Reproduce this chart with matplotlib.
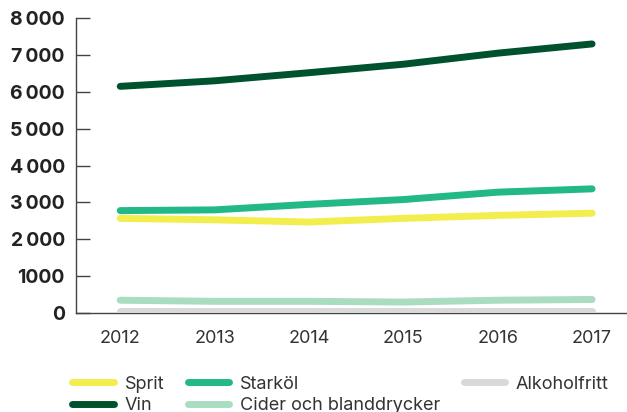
import matplotlib.pyplot as plt

years = [2012, 2013, 2014, 2015, 2016, 2017]
sprit = [2570, 2530, 2470, 2570, 2650, 2710]
vin = [6150, 6300, 6520, 6750, 7050, 7300]
starkol = [2780, 2800, 2950, 3080, 3280, 3370]
cider = [350, 320, 320, 300, 350, 370]
alkoholfritt = [60, 60, 60, 60, 60, 60]

y_ticks = [0, 1000, 2000, 3000, 4000, 5000, 6000, 7000, 8000]
y_labels = ['0', '1000', '2\u2009000', '3\u2009000', '4\u2009000', '5\u2009000',
            '6\u2009000', '7\u2009000', '8\u2009000']

plt.rcParams['font.family'] = ['Inter', 'DejaVu Sans']

fig = plt.figure(figsize=(6.27, 4.12), dpi=100)
ax = fig.add_axes([0.121, 0.240, 0.879, 0.716])

lw = 5
ax.plot(years, cider, color='#aadcc0', lw=lw, solid_capstyle='round', label='Cider och blanddrycker', zorder=3)
ax.plot(years, alkoholfritt, color='#d9d9d9', lw=lw, solid_capstyle='round', label='Alkoholfritt', zorder=3)
ax.plot(years, sprit, color='#f2ee4d', lw=lw, solid_capstyle='round', label='Sprit', zorder=3)
ax.plot(years, starkol, color='#22b887', lw=lw, solid_capstyle='round', label='Starköl', zorder=3)
ax.plot(years, vin, color='#00522f', lw=lw, solid_capstyle='round', label='Vin', zorder=3)

ax.set_xlim(2011.53, 2017.37)
ax.set_ylim(0, 8000)
ax.set_xticks(years)
ax.set_yticks(y_ticks)
ax.set_yticklabels(y_labels)

for s in ['top', 'right']:
    ax.spines[s].set_visible(False)
for s in ['left', 'bottom']:
    ax.spines[s].set_color('#444444')
    ax.spines[s].set_linewidth(1)
    ax.spines[s].set_zorder(2)

ax.tick_params(axis='y', direction='in', length=10, width=1, color='#444444', pad=8,
               labelsize=14, labelcolor='#222222')
ax.tick_params(axis='x', length=0, pad=12, labelsize=13, labelcolor='#333333')
for lab in ax.get_yticklabels():
    lab.set_fontweight('bold')

h, l = ax.get_legend_handles_labels()
order = ['Sprit', 'Vin', 'Starköl', 'Cider och blanddrycker', 'Alkoholfritt']
hh = [h[l.index(o)] for o in order]
leg = fig.legend(hh, order, loc='lower left', bbox_to_anchor=(0.115, -0.005), ncol=3, frameon=False,
                 fontsize=13, handlelength=2.3, handletextpad=0.6, columnspacing=1.3,
                 labelspacing=0.25, borderpad=0, borderaxespad=0, labelcolor='#333333')

fig.savefig('out.png', dpi=100)
